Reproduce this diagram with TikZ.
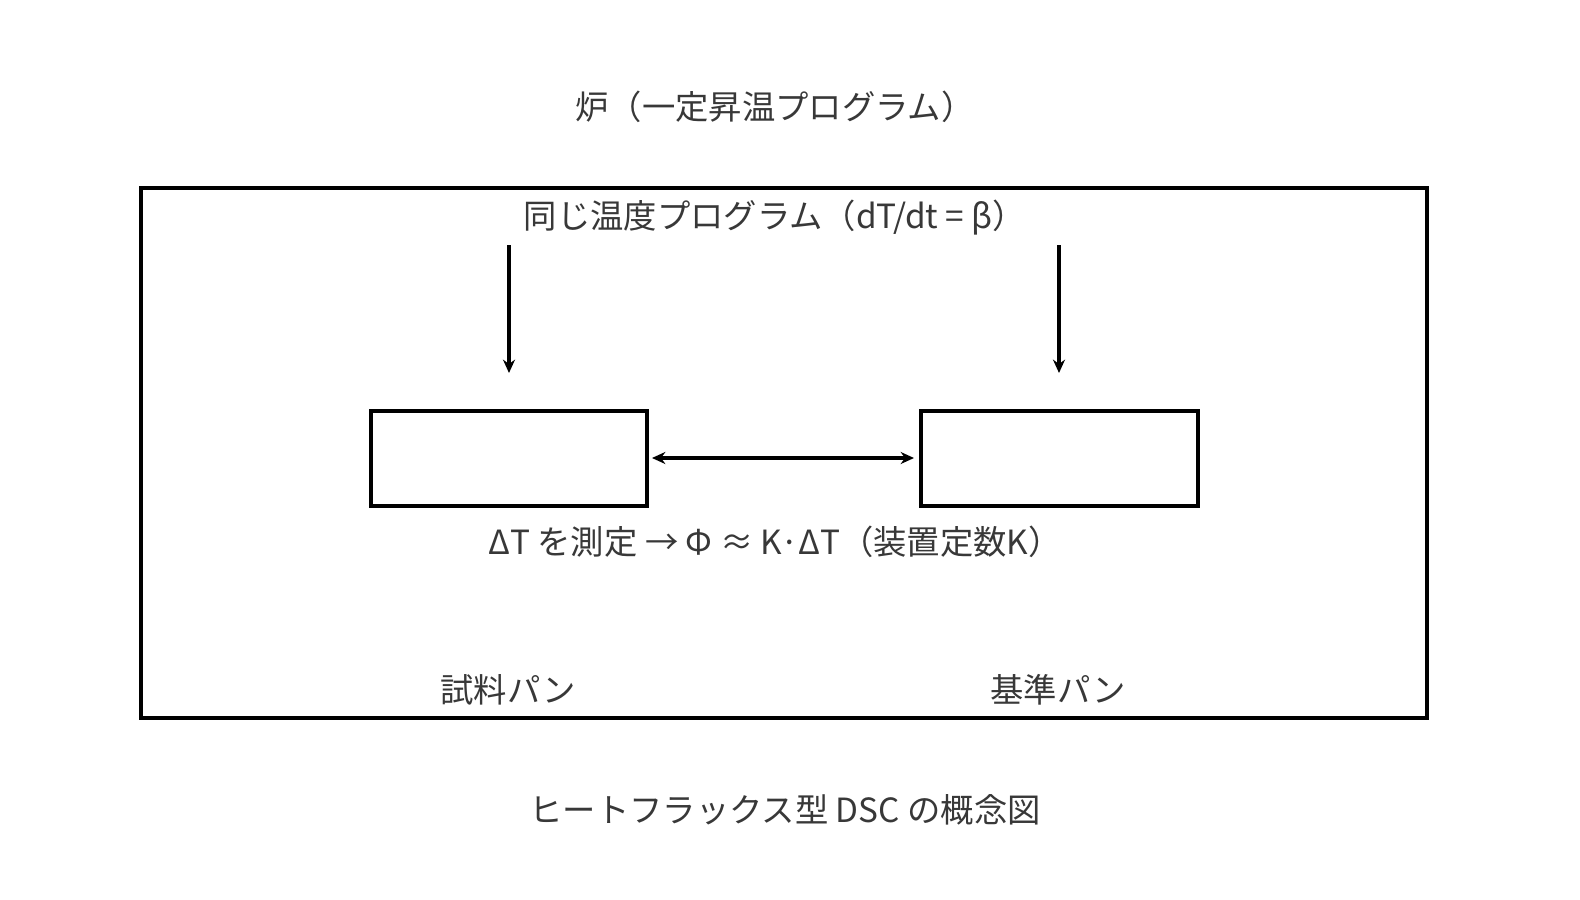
\documentclass[tikz,border=0pt]{standalone}
\usepackage{fontspec}
\usetikzlibrary{arrows.meta}
\setmainfont{Noto Sans CJK JP}
\begin{document}
\begin{tikzpicture}[x=0.75pt,y=-0.75pt,
  txt/.style={text=black!78,font=\fontsize{25}{29}\selectfont,inner sep=2pt},
  box/.style={draw=black,line width=3pt},
  myarrow/.style={draw=black,line width=2.3pt,-{Stealth[length=10pt,width=9pt]}},
  dblarrow/.style={draw=black,line width=2.8pt,{Stealth[length=10pt,width=9pt]}-{Stealth[length=10pt,width=9pt]}}]
\useasboundingbox (0,0) rectangle (1580,899);
\node[txt] (title) at (775,107) {炉（一定昇温プログラム）};
\draw[box] (141,188) rectangle (1427,718);
\node[txt] (prog) at (775,218) {同じ温度プログラム（dT/dt = β）};
\node[box,minimum width=276*0.75pt,minimum height=95*0.75pt,inner sep=0] (s) at (509,458.5) {};
\node[box,minimum width=277*0.75pt,minimum height=95*0.75pt,inner sep=0] (r) at (1059.5,458.5) {};
\coordinate (a1) at (509,245);
\coordinate (b1) at (509,373);
\coordinate (a2) at (1059,245);
\coordinate (b2) at (1059,373);
\coordinate (c1) at (652,458);
\coordinate (c2) at (914,458);
\draw[myarrow] (a1) -- (b1);
\draw[myarrow] (a2) -- (b2);
\draw[dblarrow] (c1) -- (c2);
\node[txt] (dt) at (775,542) {ΔT を測定 → Φ ≈ K·ΔT（装置定数K）};
\node[txt,fill=white,inner xsep=8pt,inner ysep=3pt] (sl) at (508,690) {試料パン};
\node[txt,fill=white,inner xsep=8pt,inner ysep=3pt] (rl) at (1058,690) {基準パン};
\node[txt] (cap) at (785,810) {ヒートフラックス型 DSC の概念図};
\end{tikzpicture}
\end{document}
